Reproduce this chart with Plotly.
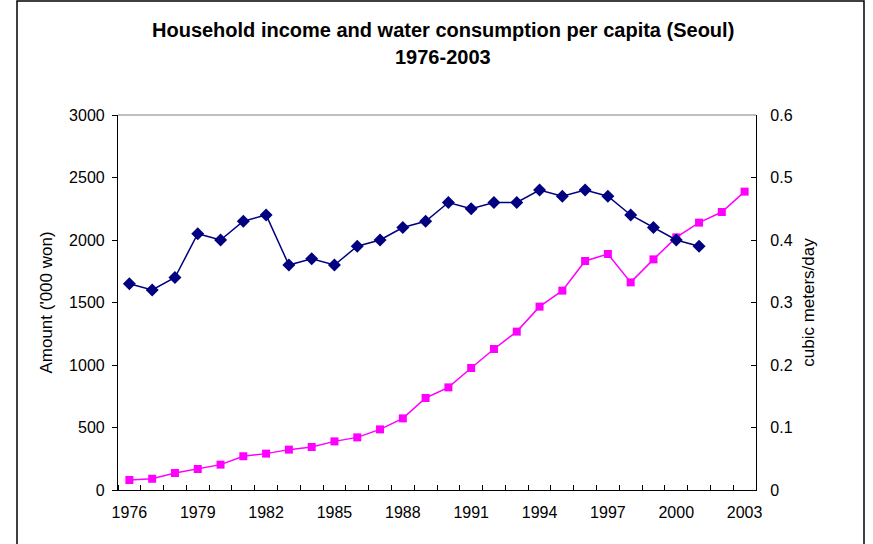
import plotly.graph_objects as go

years = list(range(1976, 2004))

# household income per capita, '000 won (left axis)
income = [80, 90, 136, 168, 203, 270, 291, 323, 344, 389, 421, 485, 573, 736,
          821, 976, 1128, 1267, 1467, 1595, 1832, 1888, 1661, 1845, 2021, 2139,
          2224, 2387]

# water consumption per capita, cubic meters/day (right axis), 1976-2001
water_years = list(range(1976, 2002))
water = [0.33, 0.32, 0.34, 0.41, 0.40, 0.43, 0.44, 0.36, 0.37, 0.36, 0.39, 0.40,
         0.42, 0.43, 0.46, 0.45, 0.46, 0.46, 0.48, 0.47, 0.48, 0.47, 0.44, 0.42,
         0.40, 0.39]

year_labels = [str(y) for y in range(1976, 2004, 3)]
left_ticks = [0, 500, 1000, 1500, 2000, 2500, 3000]
right_ticks = [0, 0.1, 0.2, 0.3, 0.4, 0.5, 0.6]

FONT = "Liberation Sans, Arial, sans-serif"
TICK = 16
AXT = 17

fig = go.Figure()
fig.add_trace(go.Scatter(
    x=water_years, y=water, yaxis="y2", mode="lines+markers",
    line=dict(color="#000080", width=1.5),
    marker=dict(symbol="diamond", size=10, color="#000080"),
    name="Water consumption", showlegend=False))
fig.add_trace(go.Scatter(
    x=years, y=income, mode="lines+markers",
    line=dict(color="#FF00FF", width=1.5),
    marker=dict(symbol="square", size=8, color="#FF00FF"),
    name="Household income", showlegend=False))

L, R, T, B = 118, 117, 115, 54
W, H = 873, 544
pw, ph = W - L - R, H - T - B

fig.update_layout(
    width=W, height=H,
    margin=dict(l=L, r=R, t=T, b=B),
    paper_bgcolor="white", plot_bgcolor="white",
    font=dict(family=FONT, size=TICK, color="black"),
    xaxis=dict(
        range=[1975.5, 2003.5],
        tickmode="array",
        tickvals=[int(s) for s in year_labels],
        ticktext=year_labels,
        ticks="", showgrid=False, zeroline=False,
        showline=True, linecolor="black", linewidth=1.2,
        minor=dict(tick0=1975.5, dtick=1, ticks="inside", ticklen=5,
                   tickcolor="black", tickwidth=1),
        tickfont=dict(size=TICK), ticklabelstandoff=8,
    ),
    yaxis=dict(
        range=[0, 3000], tickvals=left_ticks,
        ticks="outside", ticklen=5, tickcolor="black",
        showgrid=False, zeroline=False,
        showline=True, linecolor="black", linewidth=1.2,
        title=dict(text="Amount ('000 won)", font=dict(size=AXT), standoff=12),
        tickfont=dict(size=TICK), ticklabelstandoff=4,
    ),
    yaxis2=dict(
        range=[0, 0.6], tickvals=right_ticks,
        ticktext=["0", "0.1", "0.2", "0.3", "0.4", "0.5", "0.6"],
        overlaying="y", side="right",
        ticks="inside", ticklen=5, tickcolor="black",
        showgrid=False, zeroline=False,
        showline=True, linecolor="black", linewidth=1.2,
        title=dict(text="cubic meters/day", font=dict(size=AXT), standoff=10),
        tickfont=dict(size=TICK), ticklabelstandoff=10,
    ),
)

# gray top edge of the plot area
fig.add_shape(type="line", xref="paper", yref="paper", x0=0, x1=1, y0=1, y1=1,
              line=dict(color="#808080", width=1))

# outer chart-area frame (bottom edge runs past the page)
fig.add_shape(type="rect", xref="paper", yref="paper",
              x0=(17 - L) / pw, x1=(864 - L) / pw,
              y0=(H - T - 560) / ph, y1=(H - B - 1) / ph,
              line=dict(color="black", width=1.5), layer="below")

# two-line bold title
fig.add_annotation(text="<b>Household income and water consumption per capita (Seoul)</b>",
                   xref="paper", yref="paper", x=(443 - L) / pw, y=(H - B - 30) / ph,
                   showarrow=False, font=dict(size=20), xanchor="center", yanchor="middle")
fig.add_annotation(text="<b>1976-2003</b>",
                   xref="paper", yref="paper", x=(443 - L) / pw, y=(H - B - 57) / ph,
                   showarrow=False, font=dict(size=20), xanchor="center", yanchor="middle")

fig.write_html("out.html")
